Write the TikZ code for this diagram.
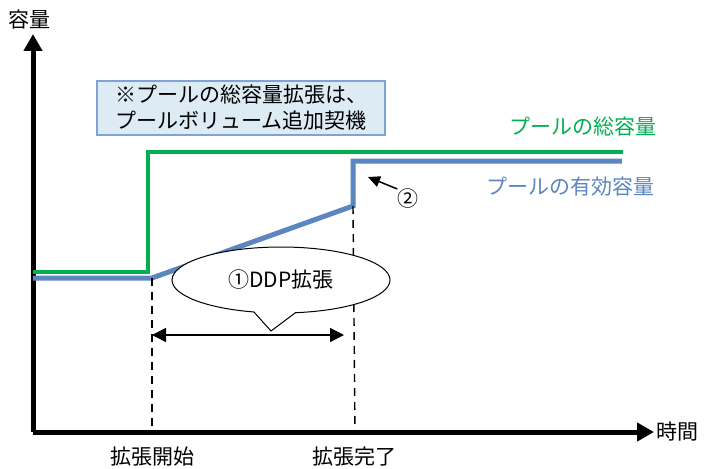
\documentclass[tikz,border=0pt]{standalone}
\usepackage{fontspec}
\setmainfont{Noto Sans CJK JP}
\usetikzlibrary{positioning, shapes, arrows.meta}

\definecolor{totalgreen}{HTML}{00B050}
\definecolor{effblue}{HTML}{5B86C0}
\definecolor{boxfill}{HTML}{DDEBF5}
\definecolor{boxline}{HTML}{7FA3D3}

\begin{document}
\begin{tikzpicture}[x=1pt,y=-1pt,
    axis/.style={line width=5pt, -{Triangle[length=17pt,width=18pt]}},
    guide/.style={line width=1.4pt, dash pattern=on 8pt off 6pt},
    lbl/.style={font=\fontsize{21}{26}\selectfont, inner sep=0pt}]
      \useasboundingbox (0,0) rectangle (708,468);

      % Axes
      \coordinate (O) at (33,432);
      \coordinate (ytop) at (33,34);
      \coordinate (xend) at (654,432);
      \draw[axis] (O) -- (ytop);
      \draw[axis] (O) -- (xend);
      \node[lbl] (ylab) at (30,20) {容量};
      \node[lbl, right=2pt of xend] (xlab) {時間};

      % Time marks
      \coordinate (t1) at (152,432);
      \coordinate (t2) at (355,432);
      \node[lbl] (start) at (152,457) {拡張開始};
      \node[lbl] (done) at (354,457) {拡張完了};

      % Total capacity (green)
      \coordinate (g0) at (33,272);
      \coordinate (g1) at (148,272);
      \coordinate (g2) at (148,152);
      \coordinate (g3) at (623,152);
      \draw[totalgreen, line width=4pt, line join=miter] (g0) -- (g1) -- (g2) -- (g3);
      \node[lbl, text=totalgreen, anchor=east] (totlab) at (657,127) {プールの総容量};

      % Effective capacity (blue)
      \coordinate (b0) at (33,278);
      \coordinate (b1) at (152,278);
      \coordinate (b2) at (353,206);
      \coordinate (b3) at (353,161);
      \coordinate (b4) at (622,161);
      \draw[effblue, line width=5pt, line join=miter] (b0) -- (b1) -- (b2) -- (b3) -- (b4);
      \node[lbl, text=effblue, anchor=east] (efflab) at (655,187) {プールの有効容量};

      % Dashed guides
      \draw[guide] (b1) -- (t1);
      \draw[guide] (b2) -- (t2);

      % Expansion span
      \coordinate (s0) at (152,335);
      \coordinate (s1) at (344,335);
      \draw[line width=1.5pt, {Triangle[length=14pt,width=14pt]}-{Triangle[length=14pt,width=14pt]}] (s0) -- (s1);
      \coordinate (tip) at (271,331);
      \node[draw, fill=white, line width=1pt, ellipse callout, minimum width=218pt, minimum height=66pt,
            callout absolute pointer={(tip)}, callout pointer arc=22,
            font=\fontsize{21}{26}\selectfont] (ddp) at (281,280) {①DDP拡張};

      % Step 2
      \coordinate (p2) at (368,177);
      \node[lbl] (two) at (408,199) {②};
      \draw[line width=1.5pt, -{Triangle[length=12pt,width=11pt]}] (two.north west) -- (p2);

      % Note box
      \node[draw=boxline, fill=boxfill, line width=1.5pt, minimum width=288pt, minimum height=54pt,
            align=left, inner sep=0pt, font=\fontsize{21}{26}\selectfont] (note) at (241,108)
            {※プールの総容量拡張は、\\プールボリューム追加契機};
\end{tikzpicture}
\end{document}
